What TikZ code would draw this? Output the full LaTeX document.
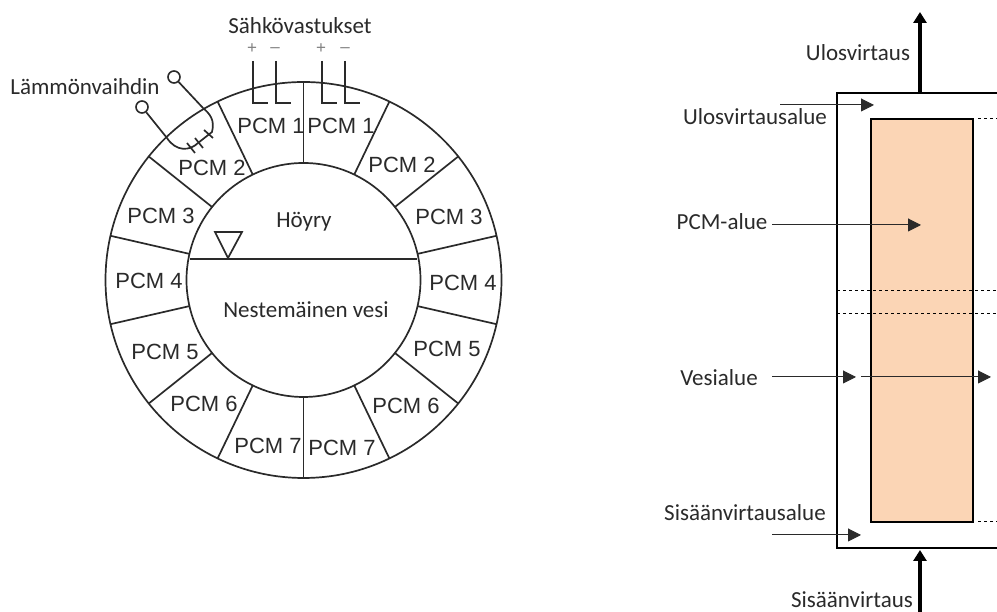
\documentclass[tikz,border=0pt]{standalone}
\usepackage{fontspec}
\setmainfont{Liberation Sans}
\newfontfamily\calfont{Carlito}
\usetikzlibrary{arrows.meta}
\definecolor{pcmfill}{HTML}{FBD5B5}
\definecolor{inkgray}{HTML}{2A2A2A}
\tikzset{
  pcmlabel/.style={inkgray,font=\fontsize{22}{24}\selectfont,inner sep=0pt},
  caption/.style={inkgray,font=\calfont\fontsize{23}{26}\selectfont,inner sep=0pt},
  thinflow/.style={line width=1pt,inkgray,-{Triangle[length=13pt,width=13pt]}},
  mainflow/.style={line width=3.8pt,black,-{Triangle[length=11pt,width=13pt]}},
  ring/.style={line width=1.7pt,inkgray},
  port/.style={circle,draw=inkgray,line width=1.6pt,minimum size=12pt,inner sep=0pt}
}
\begin{document}
\begin{tikzpicture}[x=1pt,y=1pt]
\useasboundingbox (0,0) rectangle (997,612);
\coordinate (c) at (303.5,332);
\draw[ring] (c) circle (198pt);
\draw[ring] (c) circle (117pt);
\foreach \a in {90,64.3,38.6,12.9,-12.9,-38.6,-64.3,-90,115.7,141.4,167.1,192.9,218.6,244.3}{
	\draw[ring,shift={(c)}] (\a:117pt) -- (\a:198pt);
	}
\foreach \n/\x/\y/\t in {pa/271/486/1,pb/341/486/1,pc/212/444/2,pd/402/447/2,pe/161/396/3,pf/449/395/3,
	pg/149/331/4,ph/463/329/4,pi/165/260/5,pj/447/263/5,pk/204/208/6,pl/406/206/6,pm/268/166/7,pn/342/164/7}{
	\node[pcmlabel] (\n) at (\x,\y) {PCM \t};
	}
\node[caption] (steam) at (304,390) {Höyry};
\node[caption] (water) at (306,302) {Nestemäinen vesi};
\draw[ring] (190,353) -- (417,353);
\draw[ring] (228,354) -- (215,380) -- (242,380) -- cycle;
\node[caption] (heaters) at (300,586) {Sähkövastukset};
\foreach \n/\x/\s in {sa/252/+,sc/321/+}{
	\node[gray,font=\fontsize{17}{18}\selectfont,inner sep=0pt] (\n) at (\x,563) {\s};
	}
\foreach \n/\x/\s in {sb/275/--,sd/345/--}{
	\node[gray,font=\fontsize{17}{18}\selectfont,inner sep=0pt] (\n) at (\x,562) {\s};
	}
\foreach \x in {253,276,322,345}{
	\draw[ring] (\x,551) -- (\x,509) -- (\x+15,509);
	}
\node[caption] (hxlabel) at (85,525) {Lämmönvaihdin};
\node[port] (hxa) at (174,535) {};
\node[port] (hxb) at (142,505) {};
\draw[ring] (hxa) -- (203,504) .. controls (210,498) and (215,492) .. (212,480)
	-- (198,469) .. controls (190,461) and (176,460) .. (167,474) -- (hxb);
\draw[ring] (187,469) -- (195,459);
\draw[ring] (195,474) -- (203,464);
\draw[ring] (204,482) -- (213,474);
\draw[line width=1.5pt,black] (997,64) -- (837,64) -- (837,519) -- (997,519);
\draw[line width=1.5pt,black,fill=pcmfill] (871,90) rectangle (973,493);
\draw[dashed,line width=1pt,black] (978,493) -- (997,493);
\draw[dashed,line width=1pt,black] (978,90) -- (997,90);
\draw[dashed,line width=1pt,black] (837,321) -- (997,321);
\draw[dashed,line width=1pt,black] (837,298) -- (997,298);
\node[caption] (outflow) at (858,559) {Ulosvirtaus};
\node[caption] (outzone) at (755,495) {Ulosvirtausalue};
\node[caption] (pcmzone) at (722,390) {PCM-alue};
\node[caption] (waterzone) at (719,234) {Vesialue};
\node[caption] (inzone) at (745,99) {Sisäänvirtausalue};
\node[caption] (inflow) at (852,12) {Sisäänvirtaus};
\coordinate (topa) at (920,519);
\coordinate (topb) at (920,600);
\coordinate (bota) at (920,0);
\coordinate (botb) at (920,62);
\draw[mainflow] (topa) -- (topb);
\draw[mainflow] (bota) -- (botb);
\coordinate (outa) at (780,507);
\coordinate (outb) at (874,507);
\draw[thinflow] (outa) -- (outb);
\coordinate (pcma) at (772,387);
\coordinate (pcmb) at (921,387);
\draw[thinflow] (pcma) -- (pcmb);
\coordinate (wato) at (772,235);
\coordinate (watb) at (856,235);
\draw[thinflow] (wato) -- (watb);
\coordinate (wata) at (861,235);
\coordinate (watc) at (991,235);
\draw[thinflow] (wata) -- (watc);
\coordinate (ina) at (772,77);
\coordinate (inb) at (861,77);
\draw[thinflow] (ina) -- (inb);
\end{tikzpicture}
\end{document}
